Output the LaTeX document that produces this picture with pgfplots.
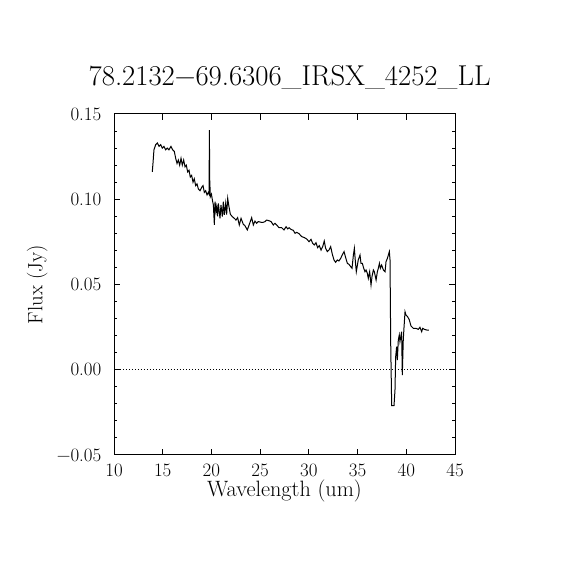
\documentclass[border=0pt]{standalone}
\usepackage{pgfplots}
\pgfplotsset{compat=1.18}
\begin{document}
\begin{tikzpicture}[x=1bp,y=1bp]
\useasboundingbox (0,0) rectangle (570,570);
\begin{axis}[
  at={(114bp,115bp)}, anchor=south west,
  width=341bp, height=341bp, scale only axis,
  xmin=10, xmax=45, ymin=-0.05, ymax=0.15,
  xtick={10,15,20,25,30,35,40,45},
  xticklabels={10,15,20,25,30,35,40,45},
  ytick={-0.05,0,0.05,0.10,0.15},
  yticklabels={−0.05,0.00,0.05,0.10,0.15},
  minor y tick num=4,
  tick align=inside,
  major tick length=6bp, minor tick length=3bp,
  axis line style={line width=1bp},
  every tick/.style={line width=1bp, black},
  yticklabel style={anchor=east, inner sep=0pt, xshift=-12.5bp, font=\fontsize{19}{21}\selectfont},
  xticklabel style={anchor=north, inner sep=0pt, yshift=-9bp, font=\fontsize{19}{21}\selectfont},
  xlabel={Wavelength (um)},
  ylabel={Flux (Jy)},
  xlabel style={at={(axis description cs:0.5,-0.122)}, anchor=base, inner sep=0pt, font=\fontsize{22.3}{24}\selectfont},
  ylabel style={at={(axis description cs:-0.21,0.5)}, anchor=base, inner sep=0pt, font=\fontsize{20.8}{22}\selectfont},
  title={78.2132−69.6306\_IRSX\_4252\_LL},
  title style={at={(axis description cs:0.515,1)}, anchor=base, yshift=22.3bp, inner sep=0pt, font=\fontsize{28.8}{30}\selectfont},
]
\addplot[black, dotted, line width=1bp] coordinates {(10,0) (45,0)};
\addplot[black, line width=1bp, line join=miter] coordinates {
(13.93,0.116) (14.00,0.121) (14.10,0.129) (14.28,0.132) (14.45,0.133) (14.62,0.131)
(14.79,0.132) (14.96,0.130) (15.13,0.131) (15.30,0.129) (15.47,0.130) (15.64,0.129)
(15.85,0.131) (16.02,0.129) (16.19,0.128) (16.33,0.124) (16.47,0.121) (16.60,0.123)
(16.74,0.120) (16.88,0.124) (17.01,0.120) (17.15,0.123) (17.29,0.119) (17.42,0.120)
(17.56,0.116) (17.70,0.117) (17.83,0.113) (17.97,0.114) (18.11,0.110) (18.24,0.112)
(18.38,0.108) (18.52,0.109) (18.66,0.106) (18.83,0.105) (19.00,0.107) (19.14,0.108)
(19.27,0.104) (19.41,0.105) (19.55,0.1025) (19.68,0.104) (19.76,0.103) (19.79,0.1406)
(19.82,0.112) (19.89,0.1015) (20.00,0.103) (20.10,0.0995) (20.20,0.0966) (20.30,0.085)
(20.37,0.0986) (20.47,0.093) (20.54,0.0956) (20.63,0.0900) (20.71,0.0976) (20.88,0.0888)
(20.98,0.0966) (21.12,0.0898) (21.22,0.0986) (21.32,0.0908) (21.46,0.0976) (21.56,0.091)
(21.67,0.1005) (21.80,0.0956) (21.94,0.0912) (22.14,0.0898) (22.35,0.0888) (22.52,0.0878)
(22.69,0.0892) (22.86,0.0849) (23.04,0.0888) (23.27,0.0853) (23.44,0.0845) (23.68,0.0820)
(23.89,0.0853) (24.13,0.0892) (24.30,0.0849) (24.47,0.0872) (24.64,0.0859) (24.81,0.0869)
(25.09,0.0865) (25.33,0.0865) (25.50,0.0869) (25.67,0.0878) (25.91,0.0874) (26.12,0.0869)
(26.35,0.0849) (26.52,0.0859) (26.70,0.0849) (26.94,0.0833) (27.21,0.0833) (27.45,0.0820)
(27.66,0.0839) (27.83,0.0826) (27.97,0.0833) (28.17,0.0823) (28.40,0.0818) (28.58,0.0800)
(28.75,0.0806) (28.99,0.0798) (29.26,0.0781) (29.54,0.0775) (29.78,0.0767) (30.02,0.0751)
(30.22,0.0765) (30.39,0.0741) (30.56,0.0732) (30.73,0.0745) (30.90,0.0716) (31.07,0.0728)
(31.25,0.0702) (31.42,0.0722) (31.58,0.0755) (31.72,0.0712) (31.89,0.0693) (32.06,0.0702)
(32.24,0.0722) (32.41,0.0677) (32.58,0.0644) (32.75,0.0630) (32.92,0.0644) (33.09,0.0638)
(33.26,0.0653) (33.43,0.0673) (33.61,0.0693) (33.78,0.0657) (33.95,0.0624) (34.12,0.0618)
(34.30,0.0604) (34.43,0.0595) (34.57,0.0673) (34.67,0.0712) (34.77,0.0638) (34.87,0.0575)
(35.07,0.0644) (35.25,0.0673) (35.35,0.0624) (35.49,0.0624) (35.63,0.0595) (35.76,0.0575)
(35.87,0.0585) (36.00,0.0566) (36.10,0.0536) (36.24,0.0575) (36.38,0.0497) (36.48,0.0546)
(36.62,0.0585) (36.72,0.0575) (36.90,0.0526) (37.03,0.0575) (37.13,0.0595) (37.24,0.0624)
(37.34,0.0595) (37.47,0.0614) (37.65,0.0585) (37.82,0.0575) (37.92,0.0634) (38.06,0.0653)
(38.16,0.0673) (38.26,0.0693) (38.33,0.0644) (38.40,0.0155) (38.50,-0.0210) (38.74,-0.0210)
(38.84,-0.0119) (38.91,0.0077) (39.01,0.0135) (39.08,0.0057) (39.18,0.0174) (39.28,0.0204)
(39.35,0.0165) (39.52,0.0223) (39.59,-0.0031) (39.69,0.0174) (39.76,0.0243) (39.87,0.0340)
(39.97,0.0321) (40.14,0.0311) (40.31,0.0292) (40.48,0.0257) (40.72,0.0243) (40.99,0.0243)
(41.23,0.0237) (41.40,0.0249) (41.58,0.0223) (41.68,0.0243) (41.85,0.0237) (42.10,0.0233)
(42.33,0.0233)
};
\end{axis}
\end{tikzpicture}
\end{document}
